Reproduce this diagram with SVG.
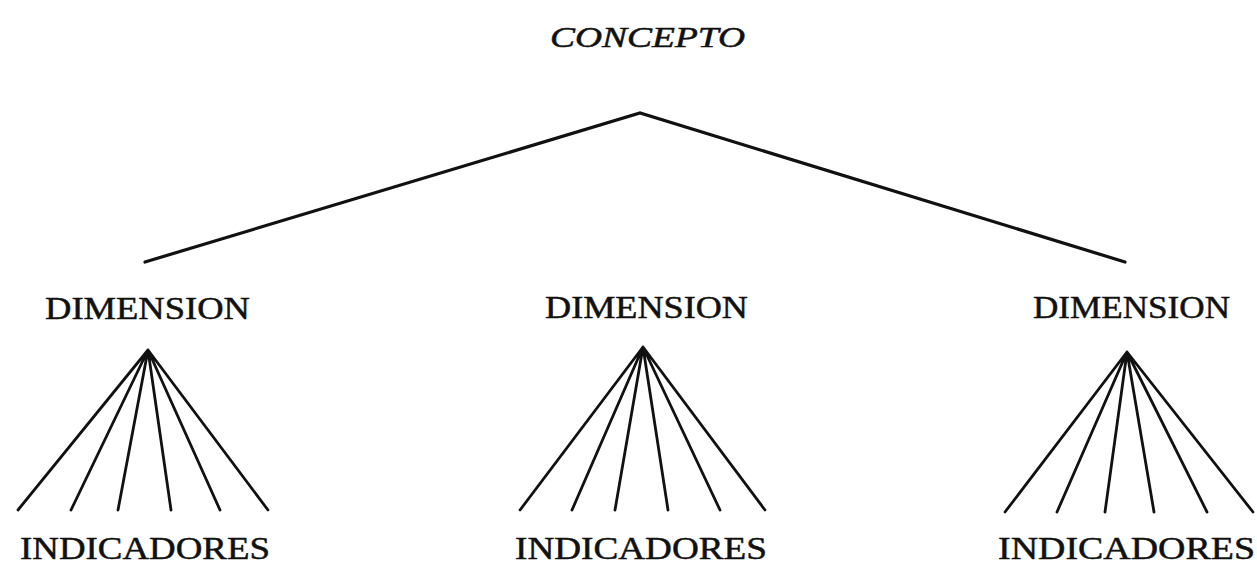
<svg xmlns="http://www.w3.org/2000/svg" width="1257" height="570" viewBox="0 0 1257 570">
<style>
.t{font-family:"Liberation Serif","Times New Roman",serif;fill:#111;stroke:#111;stroke-width:0.5;font-size:32px}
.c{font-style:italic;font-size:30px}
.e{stroke:#111;stroke-width:3.2;fill:none;stroke-linecap:round}
.f{stroke:#111;stroke-width:2.8;fill:none;stroke-linecap:round}
</style>
<rect width="1257" height="570" fill="#fff"/>
<g id="concepto"><text class="t c" x="550" y="47" textLength="195" lengthAdjust="spacingAndGlyphs">CONCEPTO</text></g>
<g id="dim1"><text class="t" x="45" y="319" textLength="205" lengthAdjust="spacingAndGlyphs">DIMENSION</text></g>
<g id="dim2"><text class="t" x="545" y="318" textLength="203" lengthAdjust="spacingAndGlyphs">DIMENSION</text></g>
<g id="dim3"><text class="t" x="1033" y="318" textLength="197" lengthAdjust="spacingAndGlyphs">DIMENSION</text></g>
<g id="ind1"><text class="t" x="20" y="559" textLength="250" lengthAdjust="spacingAndGlyphs">INDICADORES</text></g>
<g id="ind2"><text class="t" x="515" y="559" textLength="252" lengthAdjust="spacingAndGlyphs">INDICADORES</text></g>
<g id="ind3"><text class="t" x="998" y="559" textLength="257" lengthAdjust="spacingAndGlyphs">INDICADORES</text></g>
<g id="connectors">
<path class="e" d="M145,262 L640,113 L1125,262"/>
<path class="f" d="M148,350 L18,510 M148,350 L71,510 M148,350 L118,510 M148,350 L171,510 M148,350 L220,510 M148,350 L268,510"/>
<path class="f" d="M643,347 L520,510 M643,347 L572,510 M643,347 L615,510 M643,347 L668,510 M643,347 L720,510 M643,347 L765,510"/>
<path class="f" d="M1127,352 L1005,512 M1127,352 L1057,512 M1127,352 L1105,512 M1127,352 L1154,512 M1127,352 L1207,512 M1127,352 L1253,512"/>
</g>
</svg>
